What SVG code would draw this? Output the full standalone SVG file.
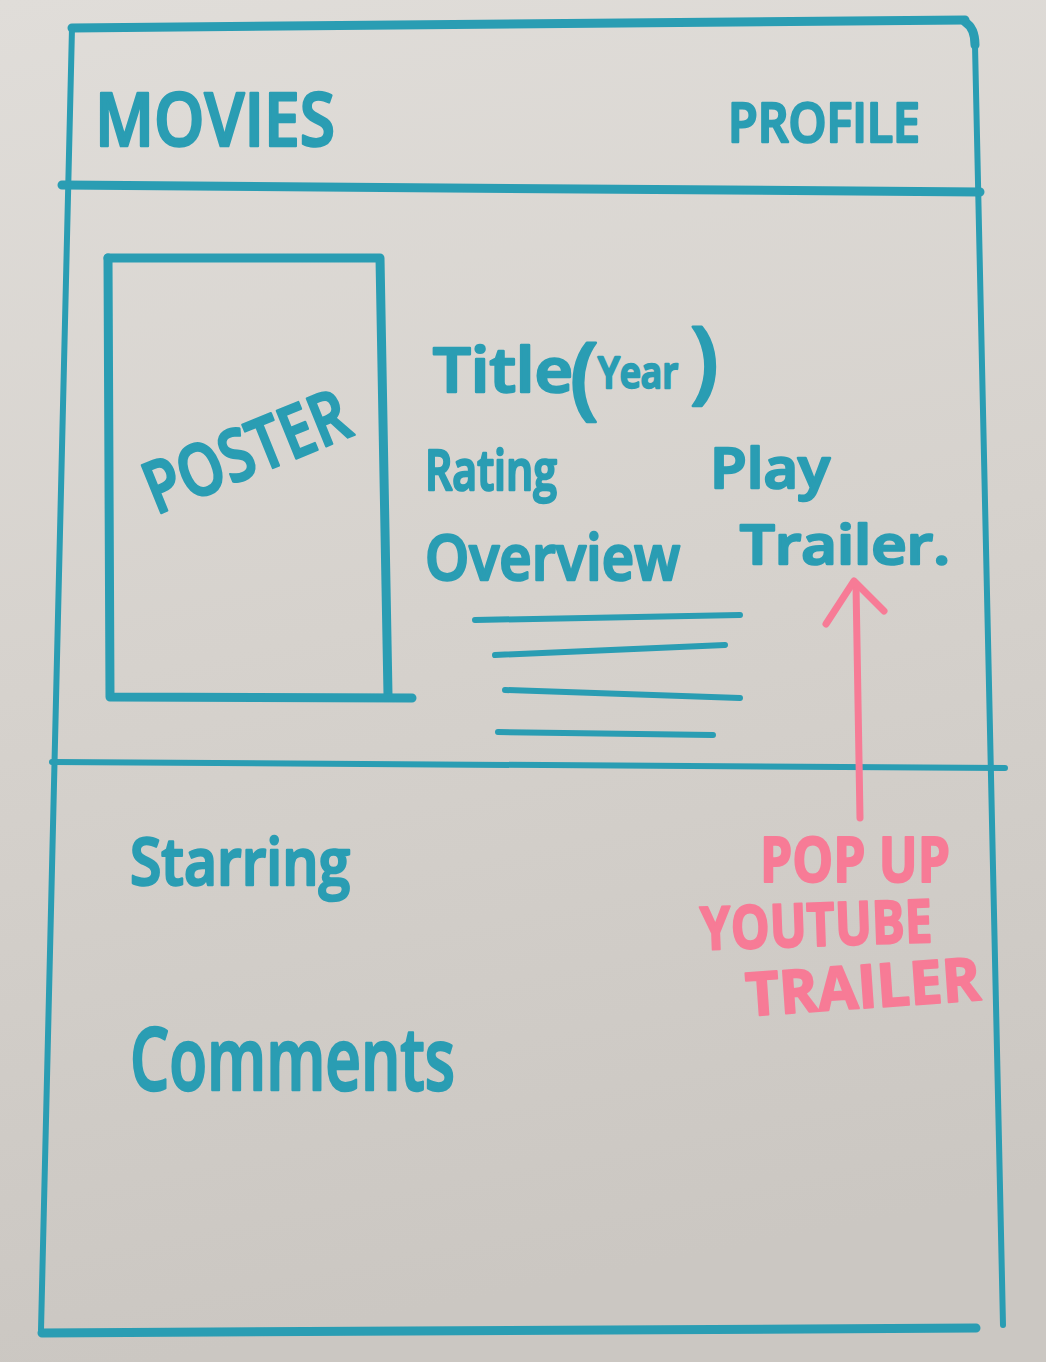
<svg xmlns="http://www.w3.org/2000/svg" width="1046" height="1362" viewBox="0 0 1046 1362">
  <defs>
    <linearGradient id="paper" x1="0" y1="0" x2="0.15" y2="1">
      <stop offset="0" stop-color="#e0ddd9"/>
      <stop offset="0.5" stop-color="#d6d2cd"/>
      <stop offset="1" stop-color="#cbc7c2"/>
    </linearGradient>
    <style>
      .ink { fill: none; stroke: #2a9db3; stroke-linecap: round; stroke-linejoin: round; }
      .frame { stroke-width: 9; }
      .thin { stroke-width: 6; }
      .pen { font-family: "Open Sans", "Liberation Sans", sans-serif; font-weight: 600; fill: #2a9db3; stroke: #2a9db3; stroke-width: 2.5; stroke-linejoin: round; }
      .pink { font-family: "Open Sans", "Liberation Sans", sans-serif; font-weight: 700; fill: #f77b96; stroke: #f77b96; stroke-width: 2; stroke-linejoin: round; }
      .pinkline { fill: none; stroke: #f77b96; stroke-width: 7; stroke-linecap: round; stroke-linejoin: round; }
    </style>
  </defs>

  <rect width="1046" height="1362" fill="url(#paper)"/>

  <!-- page frame and section dividers -->
  <g id="frame">
    <path class="ink frame" d="M72 28 L965 20"/>
    <path class="ink frame" d="M965 22 Q975 28 975 45"/>
    <path class="ink thin" d="M72 28 L41 1330"/>
    <path class="ink thin" d="M975 45 L1003 1325"/>
    <path class="ink frame" d="M42 1333 L976 1328"/>
    <path class="ink frame" d="M62 185 L980 192"/>
    <path class="ink thin" d="M52 762 L1005 768"/>
  </g>

  <!-- header -->
  <g id="header-movies">
    <text class="pen" x="95" y="146" font-size="74" textLength="240" lengthAdjust="spacingAndGlyphs">MOVIES</text>
  </g>
  <g id="header-profile">
    <text class="pen" x="728" y="142" font-size="54" textLength="192" lengthAdjust="spacingAndGlyphs">PROFILE</text>
  </g>

  <!-- poster box -->
  <g id="poster">
    <path class="ink frame" d="M108 258 L380 258 L388 695"/>
    <path class="ink frame" d="M108 258 L110 697 L412 698"/>
    <text class="pen" x="0" y="0" font-size="72" textLength="215" lengthAdjust="spacingAndGlyphs" transform="translate(156 515) rotate(-22)">POSTER</text>
  </g>

  <!-- movie details -->
  <g id="title">
    <text class="pen" x="433" y="392" font-size="62" textLength="140" lengthAdjust="spacingAndGlyphs">Title</text>
    <text class="pen" x="570" y="408" font-size="90" font-weight="400" stroke-width="1">(</text>
    <text class="pen" x="598" y="388" font-size="44" textLength="80" lengthAdjust="spacingAndGlyphs">Year</text>
    <text class="pen" x="690" y="392" font-size="90" font-weight="400" stroke-width="1">)</text>
  </g>
  <g id="rating">
    <text class="pen" x="425" y="490" font-size="56" textLength="132" lengthAdjust="spacingAndGlyphs">Rating</text>
  </g>
  <g id="overview">
    <text class="pen" x="425" y="580" font-size="64" textLength="255" lengthAdjust="spacingAndGlyphs">Overview</text>
  </g>
  <g id="play-trailer">
    <text class="pen" x="710" y="488" font-size="56" textLength="120" lengthAdjust="spacingAndGlyphs">Play</text>
    <text class="pen" x="740" y="564" font-size="54" textLength="210" lengthAdjust="spacingAndGlyphs">Trailer.</text>
  </g>
  <g id="overview-lines">
    <path class="ink thin" d="M475 620 L740 615"/>
    <path class="ink thin" d="M495 655 L725 645"/>
    <path class="ink thin" d="M505 690 L740 698"/>
    <path class="ink thin" d="M498 732 L713 735"/>
  </g>

  <!-- lower section -->
  <g id="starring">
    <text class="pen" x="130" y="885" font-size="66" textLength="220" lengthAdjust="spacingAndGlyphs">Starring</text>
  </g>
  <g id="comments">
    <text class="pen" x="130" y="1090" font-size="86" textLength="325" lengthAdjust="spacingAndGlyphs">Comments</text>
  </g>

  <!-- trailer pop-up note -->
  <g id="popup-note">
    <text class="pink" x="760" y="882" font-size="62" textLength="190" lengthAdjust="spacingAndGlyphs">POP UP</text>
    <text class="pink" x="700" y="946" font-size="60" textLength="232" lengthAdjust="spacingAndGlyphs" transform="rotate(-2 816 920)">YOUTUBE</text>
    <text class="pink" x="745" y="1008" font-size="60" textLength="235" lengthAdjust="spacingAndGlyphs" transform="rotate(-4 862 980)">TRAILER</text>
  </g>

  <g id="connectors">
    <path class="pinkline" d="M860 818 L856 585"/>
    <path class="pinkline" d="M826 624 L854 581 L884 611"/>
  </g>
</svg>
